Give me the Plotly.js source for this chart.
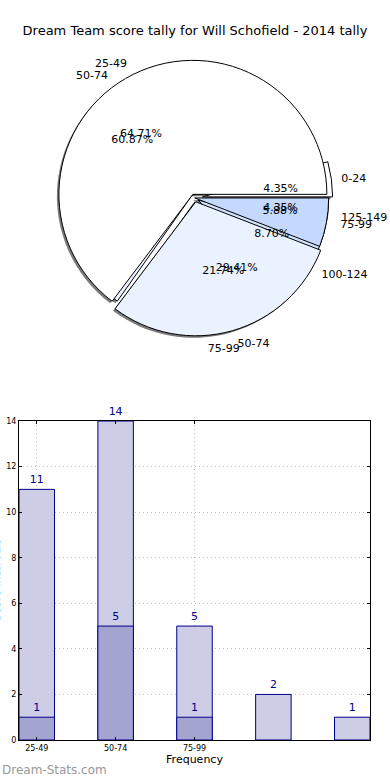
<!DOCTYPE html>
<html>
<head>
<meta charset="utf-8">
<script src="https://cdn.plot.ly/plotly-3.0.1.min.js"></script>
<style>html,body{margin:0;padding:0;background:#fff;}#chart{width:390px;height:780px;}</style>
</head>
<body>
<div id="chart"></div>
<script>
// ---- data ----
const chartTitle = 'Dream Team score tally for Will Schofield - 2014 tally';
const pieLabelsA = ['0-24', '50-74', '75-99', '100-124', '125-149'];
const pieValuesA = [1, 14, 5, 2, 1];
const pieLabelsB = ['25-49', '50-74', '75-99'];
const pieValuesB = [11, 5, 1];
const barTicks = ['25-49', '50-74', '75-99'];
const barLight = [11, 14, 5, 2, 1];
const barDark = [1, 5, 1];
const yTitle = 'Score Intervals';
const xTitle = 'Frequency';
const watermark = 'Dream-Stats.com';

// ---- styles ----
const FONT = 'DejaVu Sans, sans-serif';
const pieColorsA = ['#ffffff', '#eaf1ff', '#eaf1ff', '#d3e2ff', '#c5d9fe'];
const pieColorsB = ['#ffffff', '#eaf1ff', '#c5d9fe'];
const pullA = [0.06, 0.03, 0.03, 0.03, 0.03];
const pullB = [0.03, 0.03, 0.0];
const NAVY = '#00008b';

const pieDom = {x: [0.012, 0.989], y: [0.546, 0.919]};
const px = 1 / 351, py = 1 / 740;
const shadowDom = {x: [pieDom.x[0] - 2 * px, pieDom.x[1] - 2 * px], y: [pieDom.y[0] - 2 * py, pieDom.y[1] - 2 * py]};
const pctDom = {x: [0.312, 0.688], y: [0.643, 0.822]};
const lblDom = {x: [0.012, 0.989], y: [0.537, 0.928]};

// first slice starts at 3 o'clock and the pie runs counterclockwise (like matplotlib startangle=0)
function startRotation(values) {
  const total = values.reduce((a, b) => a + b, 0);
  return 90 - 360 * values[0] / total;
}
function pieBase(labels, values, dom) {
  return {type: 'pie', labels: labels, values: values, sort: false, direction: 'counterclockwise',
    rotation: startRotation(values), domain: dom, hoverinfo: 'skip', showlegend: false};
}
const transparent = n => Array(n).fill('rgba(0,0,0,0)');

const traces = [];
// shadows
[[pieLabelsA, pieValuesA, pullA], [pieLabelsB, pieValuesB, pullB]].forEach(([l, v, p]) => {
  traces.push(Object.assign(pieBase(l, v, shadowDom), {
    pull: p, textinfo: 'none',
    marker: {colors: Array(v.length).fill('rgba(90,90,90,0.8)'), line: {width: 0}}
  }));
});
// visible pies
traces.push(Object.assign(pieBase(pieLabelsA, pieValuesA, pieDom), {
  pull: pullA, textinfo: 'none', marker: {colors: pieColorsA, line: {color: '#000', width: 1}}
}));
traces.push(Object.assign(pieBase(pieLabelsB, pieValuesB, pieDom), {
  pull: pullB, textinfo: 'none', marker: {colors: pieColorsB, line: {color: '#000', width: 1}}
}));
// label rings
[[pieLabelsA, pieValuesA], [pieLabelsB, pieValuesB]].forEach(([l, v]) => {
  traces.push(Object.assign(pieBase(l, v, lblDom), {
    textinfo: 'label', textposition: 'outside', outsidetextfont: {family: FONT, size: 11, color: '#000'},
    marker: {colors: transparent(v.length), line: {width: 0}}
  }));
});
// percent rings
[[pieLabelsA, pieValuesA], [pieLabelsB, pieValuesB]].forEach(([l, v]) => {
  traces.push(Object.assign(pieBase(l, v, pctDom), {
    texttemplate: '%{percent:.2%}', textposition: 'outside', outsidetextfont: {family: FONT, size: 11, color: '#000'},
    marker: {colors: transparent(v.length), line: {width: 0}}
  }));
});

// bars
const xLight = barLight.map((_, i) => i);
const xDark = barDark.map((_, i) => i);
traces.push({type: 'bar', x: xLight, y: barLight, width: 0.45, text: barLight.map(String),
  textposition: 'outside', textfont: {family: FONT, size: 11, color: NAVY}, cliponaxis: false,
  marker: {color: '#cdcde5', line: {color: NAVY, width: 1}}, hoverinfo: 'skip', showlegend: false});
traces.push({type: 'bar', x: xDark, y: barDark, width: 0.45, text: barDark.map(String),
  textposition: 'outside', textfont: {family: FONT, size: 11, color: NAVY}, cliponaxis: false,
  marker: {color: '#a4a4d1', line: {color: NAVY, width: 1}}, hoverinfo: 'skip', showlegend: false});

const gridStyle = {showgrid: true, gridcolor: '#bdbdbd', griddash: '1px,3px', gridwidth: 1, zeroline: false};
const layout = {
  width: 390, height: 780,
  margin: {l: 19, r: 20, t: 0, b: 40},
  paper_bgcolor: '#fff', plot_bgcolor: '#fff',
  font: {family: FONT, color: '#000'},
  title: {text: chartTitle, font: {family: FONT, size: 13, color: '#000'}, x: 0.5, xanchor: 'center',
    y: 1 - 30 / 780, yanchor: 'middle', yref: 'container'},
  barmode: 'overlay',
  xaxis: Object.assign({domain: [0, 1], range: [-0.225, 4.225], tickvals: barTicks.map((_, i) => i), ticktext: barTicks,
    tickfont: {size: 8, family: FONT}, ticks: 'inside', ticklen: 3, tickcolor: '#000',
    showline: true, mirror: 'ticks', linecolor: '#000', linewidth: 1,
    title: {text: xTitle, font: {size: 11, family: FONT}, standoff: 3}}, gridStyle),
  yaxis: Object.assign({domain: [0, (740 - 421) / 740], range: [0, 14], dtick: 2,
    tickfont: {size: 8, family: FONT}, ticks: 'inside', ticklen: 3, tickcolor: '#000',
    showline: true, mirror: 'ticks', linecolor: '#000', linewidth: 1}, gridStyle),
  annotations: [
    {text: watermark, xref: 'paper', yref: 'paper', x: -19 / 351, xanchor: 'left',
      y: (740 - 770) / 740, yanchor: 'middle', showarrow: false, font: {family: FONT, size: 12, color: '#999999'}},
    // y-axis title sits almost entirely beyond the left edge, as in the reference
    {text: yTitle, textangle: -90, xref: 'paper', yref: 'paper', x: -23 / 351, xanchor: 'center',
      y: (740 - 580) / 740, yanchor: 'middle', showarrow: false, font: {family: FONT, size: 11, color: '#000'}}
  ]
};

Plotly.newPlot('chart', traces, layout, {displayModeBar: false, staticPlot: true});
</script>
</body>
</html>
